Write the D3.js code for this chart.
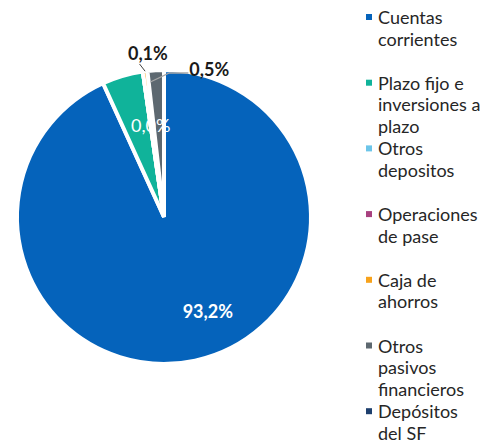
<!DOCTYPE html>
<html>
<head>
<meta charset="utf-8">
<script src="https://cdn.jsdelivr.net/npm/d3@7"></script>
<style>
  body { margin: 0; background: #fff; }
  svg { display: block; font-family: Lato, "Open Sans", sans-serif; }
</style>
</head>
<body>
<div id="chart"></div>
<script>
var categories = ["Cuentas corrientes", "Plazo fijo e inversiones a plazo", "Otros depositos",
    "Operaciones de pase", "Caja de ahorros", "Otros pasivos financieros", "Depósitos del SF"];
var legendLines = [["Cuentas", "corrientes"], ["Plazo fijo e", "inversiones a", "plazo"], ["Otros", "depositos"],
    ["Operaciones", "de pase"], ["Caja de", "ahorros"], ["Otros", "pasivos", "financieros"], ["Depósitos", "del SF"]];
var values = [93.2, 4.5, 0.0, 0.0, 0.5, 1.8, 0.0]; // share of total, %
var labels = ["93,2%", "", "0,0%", "", "0,1%", "0,5%", ""];
var colors = ["#0563bb", "#10b39a", "#6cc5e9", "#a8417f", "#f7a21b", "#5d6870", "#1d3f6d"];

var width = 487, height = 444;
var cx = 164, cy = 217, radius = 147;

var svg = d3.select("#chart").append("svg")
    .attr("width", width)
    .attr("height", height);

var g = svg.append("g")
    .attr("transform", "translate(" + cx + "," + cy + ")");

var pie = d3.pie().sort(null).value(function (d) { return d; });
var arcs = pie(values);

var arc = d3.arc().innerRadius(0).outerRadius(radius);

g.selectAll(".slice")
    .data(arcs)
    .enter().append("path")
    .attr("class", "slice")
    .attr("d", arc)
    .attr("fill", function (d, i) { return colors[i]; })
    .attr("stroke", "#fff")
    .attr("stroke-width", 4)
    .attr("stroke-linejoin", "miter");

// label placement, per slice (radius factor + small nudge)
var labelSpec = {
    0: { r: 0.7, dx: 22, dy: -6, fill: "#fff", weight: 700 },
    2: { r: 0.63, dx: 0, dy: 0, fill: "#fff", weight: 400 },
    4: { r: 1.12, dx: 5, dy: 0, fill: "#1a1a1a", weight: 700 },
    5: { r: 0.92, leader: true, fill: "#1a1a1a", weight: 700 }
};

function polar(a, r) {
    return [Math.sin(a) * r, -Math.cos(a) * r];
}

arcs.forEach(function (d, i) {
    var s = labelSpec[i];
    if (!s || !labels[i]) return;
    var mid = (d.startAngle + d.endAngle) / 2;
    var p = polar(mid, radius * s.r);
    if (s.leader) {
        var start = [p[0] - 6, p[1]];
        var elbow = [start[0] + 19, start[1] - 9];
        var end = [elbow[0] + 19, elbow[1]];
        g.append("polyline")
            .attr("points", [start, elbow, end].map(function (q) { return q.join(","); }).join(" "))
            .attr("fill", "none")
            .attr("stroke", "#a6a6a6")
            .attr("stroke-width", 1.3);
        g.append("text")
            .attr("x", end[0] + 1)
            .attr("y", end[1] - 3)
            .attr("dy", "0.35em")
            .attr("font-size", 18)
            .attr("font-weight", s.weight)
            .attr("fill", s.fill)
            .text(labels[i]);
    } else {
        g.append("text")
            .attr("x", p[0] + s.dx)
            .attr("y", p[1] + s.dy)
            .attr("dy", "0.35em")
            .attr("text-anchor", "middle")
            .attr("font-size", 18)
            .attr("font-weight", s.weight)
            .attr("fill", s.fill)
            .text(labels[i]);
    }
});

// tiny leader tick for the caja de ahorros label
var cajaMid = (arcs[4].startAngle + arcs[4].endAngle) / 2;
var t0 = polar(cajaMid, radius), t1 = polar(cajaMid - 0.03, radius + 8);
g.append("line")
    .attr("x1", t0[0]).attr("y1", t0[1])
    .attr("x2", t1[0]).attr("y2", t1[1])
    .attr("stroke", "#404040")
    .attr("stroke-width", 1);

// legend
var legendX = 366, legendTop = 24, entryStep = 65.7, lineH = 21.7;
var legend = svg.append("g").attr("class", "legend");

var items = legend.selectAll(".item")
    .data(categories)
    .enter().append("g")
    .attr("class", "item")
    .attr("transform", function (d, i) { return "translate(" + legendX + "," + (legendTop + i * entryStep) + ")"; });

items.append("rect")
    .attr("x", 0)
    .attr("y", -10)
    .attr("width", 6)
    .attr("height", 6)
    .attr("fill", function (d, i) { return colors[i]; });

items.append("text")
    .attr("font-size", 18)
    .attr("fill", "#262626")
    .selectAll("tspan")
    .data(function (d, i) { return legendLines[i]; })
    .enter().append("tspan")
    .attr("x", 12)
    .attr("y", function (d, j) { return j * lineH; })
    .text(function (d) { return d; });
</script>
</body>
</html>
